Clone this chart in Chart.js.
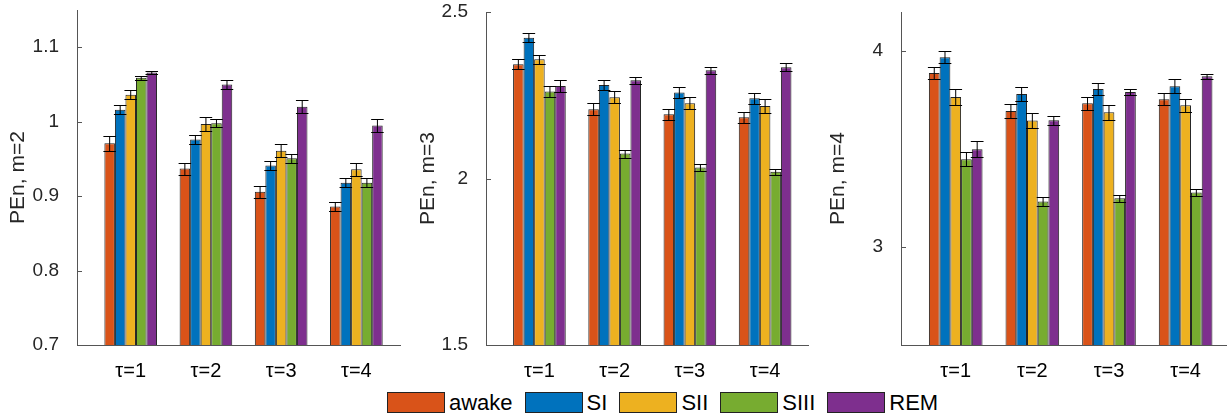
<!DOCTYPE html>
<html>
<head>
<meta charset="utf-8">
<title>PEn by sleep stage</title>
<script src="https://cdn.jsdelivr.net/npm/chart.js@4.4.0/dist/chart.umd.min.js"></script>
<style>
  html, body { margin: 0; padding: 0; background: #fff; }
  body { width: 1227px; height: 419px; position: relative; overflow: hidden; font-family: "Liberation Sans", Arial, sans-serif; }
  canvas { position: absolute; top: 0; }
  #legend { position: absolute; left: 387px; top: 392px; display: flex; align-items: center; font-size: 22px; color: #000; }
  .item { display: flex; align-items: center; margin-right: 12px; height: 21px; }
  .swatch { width: 56px; height: 19px; border: 1px solid #222; margin-right: 4px; }
</style>
</head>
<body>
<canvas id="m2" width="410" height="380" style="left:0px"></canvas>
<canvas id="m3" width="410" height="380" style="left:410px"></canvas>
<canvas id="m4" width="407" height="380" style="left:820px"></canvas>
<div id="legend"></div>
<script>
const tauLabels = ['τ=1', 'τ=2', 'τ=3', 'τ=4'];
const tauValues = [1, 2, 3, 4];
const stages = ['awake', 'SI', 'SII', 'SIII', 'REM'];
const stageColors = ['#D95319', '#0072BD', '#EDB120', '#77AC30', '#7E2F8E'];

// rows follow stages, columns follow tau
const penM2 = [
  [0.971, 0.937, 0.906, 0.886],
  [1.016, 0.976, 0.941, 0.918],
  [1.036, 0.997, 0.961, 0.936],
  [1.059, 0.998, 0.951, 0.918],
  [1.066, 1.050, 1.020, 0.995]
];
const errM2 = [
  [0.010, 0.008, 0.008, 0.006],
  [0.006, 0.006, 0.006, 0.006],
  [0.006, 0.009, 0.009, 0.009],
  [0.003, 0.005, 0.006, 0.006],
  [0.002, 0.006, 0.009, 0.009]
];

const penM3 = [
  [2.343, 2.208, 2.193, 2.184],
  [2.423, 2.281, 2.258, 2.241],
  [2.358, 2.244, 2.226, 2.218],
  [2.261, 2.075, 2.033, 2.020],
  [2.278, 2.295, 2.325, 2.334]
];
const errM3 = [
  [0.015, 0.018, 0.017, 0.016],
  [0.013, 0.016, 0.016, 0.016],
  [0.013, 0.018, 0.018, 0.020],
  [0.016, 0.012, 0.010, 0.010],
  [0.018, 0.010, 0.010, 0.012]
];

const penM4 = [
  [3.888, 3.695, 3.734, 3.755],
  [3.969, 3.782, 3.807, 3.821],
  [3.766, 3.646, 3.688, 3.724],
  [3.448, 3.233, 3.249, 3.278],
  [3.499, 3.647, 3.792, 3.872]
];
const errM4 = [
  [0.030, 0.037, 0.032, 0.030],
  [0.030, 0.034, 0.030, 0.035],
  [0.043, 0.037, 0.037, 0.034],
  [0.036, 0.023, 0.019, 0.019],
  [0.040, 0.022, 0.017, 0.014]
];

const yTicksM2 = [0.7, 0.8, 0.9, 1, 1.1];
const yTicksM3 = [1.5, 2, 2.5];
const yTicksM4 = [3, 4];

const axisColor = '#555';
const textColor = '#262626';
const tickFont = { family: '"Liberation Sans", Arial, sans-serif', size: 19 };
const tauFont = { family: '"Liberation Sans", Arial, sans-serif', size: 20 };
const titleFont = { family: '"Liberation Sans", Arial, sans-serif', size: 21 };

// error bars from each dataset's errors, placed with the chart's own scale
const errorBars = {
  id: 'errorBars',
  afterDatasetsDraw(chart) {
    const ctx = chart.ctx;
    const yScale = chart.scales.y;
    ctx.save();
    ctx.strokeStyle = '#000';
    ctx.lineWidth = 1;
    chart.data.datasets.forEach((ds, i) => {
      chart.getDatasetMeta(i).data.forEach((bar, j) => {
        const v = ds.data[j].y;
        const e = ds.errors[j];
        const top = Math.round(yScale.getPixelForValue(v + e)) + 0.5;
        const bot = Math.round(yScale.getPixelForValue(v - e)) + 0.5;
        const half = bar.width / 2 + 1;
        ctx.beginPath();
        ctx.moveTo(bar.x, top); ctx.lineTo(bar.x, bot);
        ctx.moveTo(bar.x - half, top); ctx.lineTo(bar.x + half, top);
        ctx.moveTo(bar.x - half, bot); ctx.lineTo(bar.x + half, bot);
        ctx.stroke();
      });
    });
    ctx.restore();
  }
};

// matlab style ticks pointing into the plot
const innerTicks = {
  id: 'innerTicks',
  afterDraw(chart) {
    const yScale = chart.scales.y;
    const ctx = chart.ctx;
    ctx.save();
    ctx.strokeStyle = axisColor;
    ctx.lineWidth = 1;
    yScale.ticks.forEach((t) => {
      const p = Math.round(yScale.getPixelForValue(t.value)) + 0.5;
      ctx.beginPath();
      ctx.moveTo(yScale.right, p);
      ctx.lineTo(yScale.right + 5, p);
      ctx.stroke();
    });
    ctx.restore();
  }
};

function makePanel(id, title, values, errors, yMin, yMax, yTicks, box) {
  const datasets = stages.map((name, i) => ({
    label: name,
    data: tauValues.map((t, j) => ({ x: t, y: values[i][j] })),
    errors: errors[i],
    backgroundColor: stageColors[i],
    borderColor: '#222',
    borderWidth: 1,
    categoryPercentage: 0.7,
    barPercentage: 1
  }));

  return new Chart(document.getElementById(id), {
    type: 'bar',
    data: { datasets },
    plugins: [errorBars, innerTicks],
    options: {
      responsive: false,
      animation: false,
      layout: { padding: { top: box.top, right: box.right, left: 0, bottom: 0 } },
      plugins: { legend: { display: false }, tooltip: { enabled: false } },
      scales: {
        x: {
          type: 'linear',
          offset: false,
          min: box.xMin,
          max: box.xMax,
          afterBuildTicks: (s) => { s.ticks = tauValues.map((v) => ({ value: v })); },
          afterFit: (s) => { s.height = 35; s.paddingLeft = 0; s.paddingRight = 0; },
          grid: { display: false, offset: false },
          border: { display: true, color: axisColor, width: 1 },
          ticks: {
            padding: 6,
            autoSkip: false,
            maxRotation: 0,
            color: '#000',
            font: tauFont,
            callback: (v) => tauLabels[tauValues.indexOf(v)] || ''
          }
        },
        y: {
          min: yMin,
          max: yMax,
          afterBuildTicks: (s) => { s.ticks = yTicks.map((v) => ({ value: v })); },
          afterFit: (s) => { s.width = box.yWidth; s.paddingTop = 0; s.paddingBottom = 0; },
          grid: { display: false },
          border: { display: true, color: axisColor, width: 1 },
          ticks: { padding: 10, color: textColor, font: tickFont, callback: (v) => String(v) },
          title: { display: true, text: title, color: textColor, font: titleFont, padding: { top: 6, bottom: 0 } }
        }
      }
    }
  });
}

makePanel('m2', 'PEn, m=2', penM2, errM2, 0.7, 1.15, yTicksM2,
  { top: 10, right: 10, yWidth: 77, xMin: 0.286, xMax: 4.58 });
makePanel('m3', 'PEn, m=3', penM3, errM3, 1.5, 2.5, yTicksM3,
  { top: 12, right: 12, yWidth: 76, xMin: 0.29, xMax: 4.57 });
makePanel('m4', 'PEn, m=4', penM4, errM4, 2.5, 4.2, yTicksM4,
  { top: 12, right: 0, yWidth: 81, xMin: 0.286, xMax: 4.54 });

const legend = document.getElementById('legend');
stages.forEach((name, i) => {
  const item = document.createElement('div');
  item.className = 'item';
  const sw = document.createElement('span');
  sw.className = 'swatch';
  sw.style.background = stageColors[i];
  const label = document.createElement('span');
  label.textContent = name;
  item.appendChild(sw);
  item.appendChild(label);
  legend.appendChild(item);
});
</script>
</body>
</html>
